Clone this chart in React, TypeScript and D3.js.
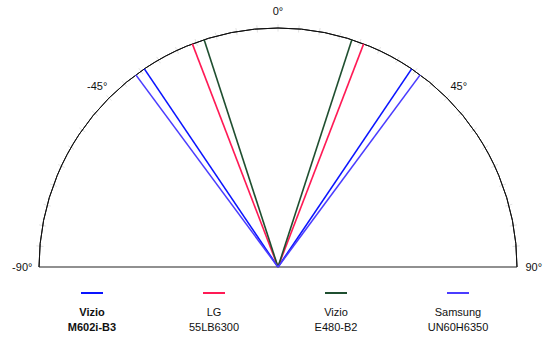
import React from "react";
import * as d3 from "d3";

const W = 552;
const H = 343;

const seriesLine1 = ["Vizio", "LG", "Vizio", "Samsung"];
const seriesLine2 = ["M602i-B3", "55LB6300", "E480-B2", "UN60H6350"];
const seriesAngles = [34, 21, 18, 36.5];
const seriesColors = ["#0a14ff", "#ff1a55", "#1f4f30", "#4a3cff"];
const seriesBold = [true, false, false, false];

const axisAngles = [-90, -45, 0, 45, 90];
const axisLabels = ["-90°", "-45°", "0°", "45°", "90°"];
const minorTicks = d3.range(-85, 90, 5);

export default function App() {
  const cx = 278;
  const cy = 267;
  const R = 239;
  const angle = d3.scaleLinear().domain([-90, 90]).range([-Math.PI / 2, Math.PI / 2]);
  const radius = d3.scaleLinear().domain([0, 1]).range([0, R]);
  const pt = (deg: number, r: number) => {
    const a = angle(deg);
    return [cx + radius(r) * Math.sin(a), cy - radius(r) * Math.cos(a)];
  };
  const arc = d3.arc()({
    innerRadius: R,
    outerRadius: R,
    startAngle: angle(-90),
    endAngle: angle(90),
  } as any) as string;

  const legendX = d3.scalePoint<number>().domain([0, 1, 2, 3]).range([92, 458]);

  return (
    <div style={{ position: "absolute", left: 0, top: 0 }}>
      <svg width={W} height={H} style={{ display: "block", background: "#fff" }}
        fontFamily="'Liberation Sans', Arial, sans-serif">
        <g>
          {minorTicks.map((t) => {
            const [x1, y1] = pt(t, 0.985);
            const [x2, y2] = pt(t, 1.015);
            return <line key={t} x1={x1} y1={y1} x2={x2} y2={y2} stroke="#e2e2e2" strokeWidth={1} />;
          })}
          <path d={arc} transform={`translate(${cx},${cy})`} fill="none" stroke="#111" strokeWidth={1} />
          <line x1={cx - R} y1={cy} x2={cx + R} y2={cy} stroke="#222" strokeWidth={1.2} />
          {seriesAngles.map((a, i) =>
            [-a, a].map((d, j) => {
              const [x2, y2] = pt(d, 1);
              return (
                <line key={`${i}-${j}`} x1={cx} y1={cy} x2={x2} y2={y2}
                  stroke={seriesColors[i]} strokeWidth={1.6} />
              );
            })
          )}
          {axisAngles.map((a, i) => {
            const [x, y] = pt(a, 1.07);
            return (
              <text key={a} x={x} y={y} fontSize={11} textAnchor="middle" dominantBaseline="central" fill="#111">
                {axisLabels[i]}
              </text>
            );
          })}
        </g>
        <g>
          {seriesLine1.map((n, i) => {
            const x = legendX(i) as number;
            return (
              <g key={i}>
                <line x1={x - 11} x2={x + 11} y1={293} y2={293} stroke={seriesColors[i]} strokeWidth={2} />
                <text x={x} y={316} fontSize={11} textAnchor="middle" fontWeight={seriesBold[i] ? "bold" : "normal"} fill="#111">{n}</text>
                <text x={x} y={331} fontSize={11} textAnchor="middle" fontWeight={seriesBold[i] ? "bold" : "normal"} fill="#111">{seriesLine2[i]}</text>
              </g>
            );
          })}
        </g>
      </svg>
    </div>
  );
}
